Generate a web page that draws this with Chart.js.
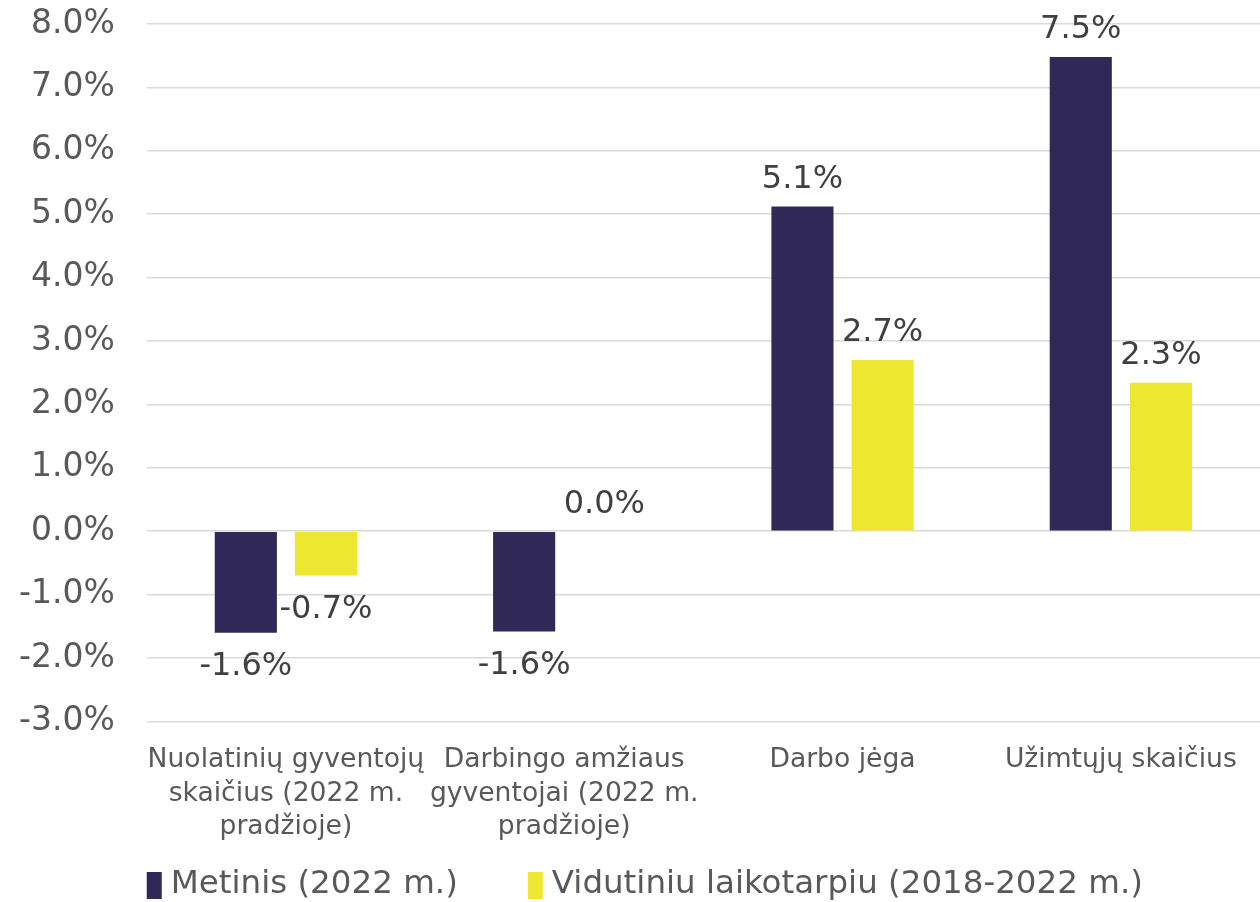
<!DOCTYPE html>
<html>
<head>
<meta charset="utf-8">
<script src="https://cdn.jsdelivr.net/npm/chart.js@4"></script>
<style>
  html, body { margin: 0; padding: 0; background: #fff; }
  #wrap { width: 1260px; height: 902px; }
</style>
</head>
<body>
<div id="wrap"><canvas id="myChart"></canvas></div>
<script>
const categories = [
	["Nuolatinių gyventojų", "skaičius (2022 m.", "pradžioje)"],
	["Darbingo amžiaus", "gyventojai (2022 m.", "pradžioje)"],
	"Darbo jėga",
	"Užimtųjų skaičius",
];
const seriesNames = ["Metinis (2022 m.)", "Vidutiniu laikotarpiu (2018-2022 m.)"];
const metinis = [-1.6, -1.58, 5.12, 7.48];
const vidutiniu = [-0.7, 0.0, 2.7, 2.34];
const seriesColors = ["#302857", "#EDE732"];

const fmt = (v) => v.toFixed(1) + "%";

// draws the value next to each bar end
const valueLabels = {
	id: "valueLabels",
	afterDatasetsDraw(chart) {
		const c = chart.ctx;
		c.save();
		c.font = "32px 'DejaVu Sans'";
		c.fillStyle = "#404040";
		c.textAlign = "center";
		c.textBaseline = "middle";
		chart.data.datasets.forEach((ds, i) => {
			chart.getDatasetMeta(i).data.forEach((bar, j) => {
				const v = ds.data[j];
				const y = v >= 0 ? bar.y - 27 : bar.y + 34;
				c.fillText(fmt(v), bar.x, y);
			});
		});
		c.restore();
	},
};

// legend row under the axis labels, spaced like the original
const bottomLegend = {
	id: "bottomLegend",
	afterDraw(chart) {
		const c = chart.ctx;
		c.save();
		c.font = "32.5px 'DejaVu Sans'";
		c.textBaseline = "middle";
		c.textAlign = "left";
		let x = chart.chartArea.left;
		const y = 885;
		chart.data.datasets.forEach((ds) => {
			c.fillStyle = ds.backgroundColor;
			c.fillRect(x, y - 13, 15, 27);
			x += 24;
			c.fillStyle = "#595959";
			c.fillText(ds.label, x, y);
			x += c.measureText(ds.label).width + 70;
		});
		c.restore();
	},
};

const ctx = document.getElementById("myChart").getContext("2d");
const myChart = new Chart(ctx, {
	type: "bar",
	data: {
		labels: categories,
		datasets: [
			{ label: seriesNames[0], data: metinis, backgroundColor: seriesColors[0] },
			{ label: seriesNames[1], data: vidutiniu, backgroundColor: seriesColors[1] },
		].map((d) => ({ ...d, categoryPercentage: 0.576, barPercentage: 0.775 })),
	},
	options: {
		responsive: true,
		maintainAspectRatio: false,
		animation: false,
		layout: { padding: { left: -13, right: 0, top: 24, bottom: 44 } },
		plugins: {
			tooltip: { enabled: false },
			legend: { display: false },
		},
		scales: {
			x: {
				grid: { display: false },
				border: { display: false },
				ticks: {
					color: "#595959",
					maxRotation: 0,
					autoSkip: false,
					padding: 14,
					font: { family: "'DejaVu Sans'", size: 26.6, lineHeight: 1.26 },
				},
			},
			y: {
				min: -3,
				max: 8,
				border: { display: false },
				grid: { color: "#d9d9d9", lineWidth: 1.5, drawTicks: false },
				ticks: {
					stepSize: 1,
					color: "#595959",
					padding: 32,
					font: { family: "'DejaVu Sans'", size: 33 },
					callback: (v) => fmt(v),
				},
				// the top label may reach into the margin
				afterFit: (scale) => {
					scale.paddingTop = 0;
				},
			},
		},
	},
	plugins: [valueLabels, bottomLegend],
});
</script>
</body>
</html>
